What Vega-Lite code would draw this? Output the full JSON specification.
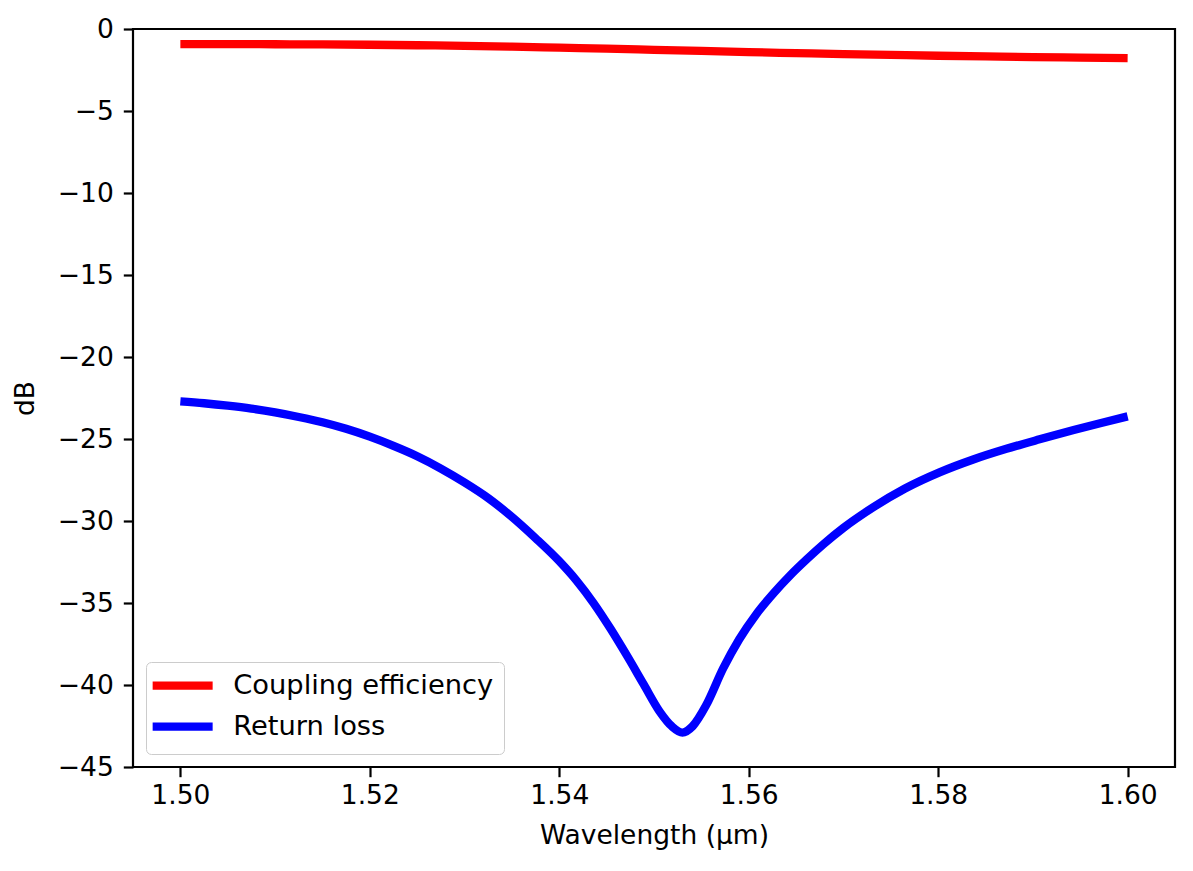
{
  "$schema": "https://vega.github.io/schema/vega-lite/v6.json",
  "autosize": {"type": "none"},
  "padding": {"left": 133, "top": 29, "right": 18, "bottom": 104},
  "width": 1042,
  "height": 738,
  "background": "white",
  "config": {
    "font": "DejaVu Sans",
    "view": {"stroke": "black", "strokeWidth": 2.2},
    "axis": {
      "domain": false,
      "grid": false,
      "ticks": true,
      "tickColor": "black",
      "tickWidth": 2.2,
      "tickSize": 9.7,
      "labelColor": "black",
      "labelFont": "DejaVu Sans",
      "labelFontSize": 26.5,
      "titleFont": "DejaVu Sans",
      "titleFontSize": 26.5,
      "titleFontWeight": "normal",
      "titleColor": "black"
    },
    "legend": {
      "orient": "bottom-left",
      "offset": 13,
      "padding": 10,
      "fillColor": "rgba(255,255,255,0.8)",
      "strokeColor": "#cccccc",
      "cornerRadius": 5,
      "symbolType": "M-1,0L11,0",
      "symbolSize": 100,
      "symbolOffset": -12,
      "symbolStrokeWidth": 8.3,
      "labelFont": "DejaVu Sans",
      "labelFontSize": 27.3,
      "labelColor": "black",
      "labelOffset": 62,
      "labelLimit": 600,
      "rowPadding": 7,
      "title": null
    }
  },
  "data": {
    "values": [
      {"wl": 1.500, "dB": -0.92, "series": "Coupling efficiency"},
      {"wl": 1.505, "dB": -0.92, "series": "Coupling efficiency"},
      {"wl": 1.510, "dB": -0.93, "series": "Coupling efficiency"},
      {"wl": 1.515, "dB": -0.94, "series": "Coupling efficiency"},
      {"wl": 1.520, "dB": -0.96, "series": "Coupling efficiency"},
      {"wl": 1.525, "dB": -0.99, "series": "Coupling efficiency"},
      {"wl": 1.530, "dB": -1.03, "series": "Coupling efficiency"},
      {"wl": 1.535, "dB": -1.08, "series": "Coupling efficiency"},
      {"wl": 1.540, "dB": -1.14, "series": "Coupling efficiency"},
      {"wl": 1.545, "dB": -1.20, "series": "Coupling efficiency"},
      {"wl": 1.550, "dB": -1.27, "series": "Coupling efficiency"},
      {"wl": 1.555, "dB": -1.34, "series": "Coupling efficiency"},
      {"wl": 1.560, "dB": -1.41, "series": "Coupling efficiency"},
      {"wl": 1.565, "dB": -1.47, "series": "Coupling efficiency"},
      {"wl": 1.570, "dB": -1.53, "series": "Coupling efficiency"},
      {"wl": 1.575, "dB": -1.58, "series": "Coupling efficiency"},
      {"wl": 1.580, "dB": -1.63, "series": "Coupling efficiency"},
      {"wl": 1.585, "dB": -1.67, "series": "Coupling efficiency"},
      {"wl": 1.590, "dB": -1.71, "series": "Coupling efficiency"},
      {"wl": 1.595, "dB": -1.74, "series": "Coupling efficiency"},
      {"wl": 1.600, "dB": -1.77, "series": "Coupling efficiency"},
      {"wl": 1.5000, "dB": -22.70, "series": "Return loss"},
      {"wl": 1.5025, "dB": -22.82, "series": "Return loss"},
      {"wl": 1.5050, "dB": -22.97, "series": "Return loss"},
      {"wl": 1.5075, "dB": -23.15, "series": "Return loss"},
      {"wl": 1.5100, "dB": -23.38, "series": "Return loss"},
      {"wl": 1.5125, "dB": -23.66, "series": "Return loss"},
      {"wl": 1.5150, "dB": -23.98, "series": "Return loss"},
      {"wl": 1.5175, "dB": -24.38, "series": "Return loss"},
      {"wl": 1.5200, "dB": -24.86, "series": "Return loss"},
      {"wl": 1.5225, "dB": -25.42, "series": "Return loss"},
      {"wl": 1.5250, "dB": -26.05, "series": "Return loss"},
      {"wl": 1.5275, "dB": -26.80, "series": "Return loss"},
      {"wl": 1.5300, "dB": -27.65, "series": "Return loss"},
      {"wl": 1.5325, "dB": -28.60, "series": "Return loss"},
      {"wl": 1.5350, "dB": -29.75, "series": "Return loss"},
      {"wl": 1.5375, "dB": -31.05, "series": "Return loss"},
      {"wl": 1.5400, "dB": -32.45, "series": "Return loss"},
      {"wl": 1.5418, "dB": -33.62, "series": "Return loss"},
      {"wl": 1.5436, "dB": -34.99, "series": "Return loss"},
      {"wl": 1.5454, "dB": -36.56, "series": "Return loss"},
      {"wl": 1.5471, "dB": -38.17, "series": "Return loss"},
      {"wl": 1.5489, "dB": -39.95, "series": "Return loss"},
      {"wl": 1.5506, "dB": -41.62, "series": "Return loss"},
      {"wl": 1.5519, "dB": -42.53, "series": "Return loss"},
      {"wl": 1.5530, "dB": -42.90, "series": "Return loss"},
      {"wl": 1.5541, "dB": -42.50, "series": "Return loss"},
      {"wl": 1.5555, "dB": -41.24, "series": "Return loss"},
      {"wl": 1.5573, "dB": -38.99, "series": "Return loss"},
      {"wl": 1.5590, "dB": -37.21, "series": "Return loss"},
      {"wl": 1.5608, "dB": -35.68, "series": "Return loss"},
      {"wl": 1.5626, "dB": -34.42, "series": "Return loss"},
      {"wl": 1.5644, "dB": -33.30, "series": "Return loss"},
      {"wl": 1.5661, "dB": -32.35, "series": "Return loss"},
      {"wl": 1.5679, "dB": -31.41, "series": "Return loss"},
      {"wl": 1.5700, "dB": -30.42, "series": "Return loss"},
      {"wl": 1.5731, "dB": -29.18, "series": "Return loss"},
      {"wl": 1.5765, "dB": -28.02, "series": "Return loss"},
      {"wl": 1.5802, "dB": -27.02, "series": "Return loss"},
      {"wl": 1.5837, "dB": -26.25, "series": "Return loss"},
      {"wl": 1.5872, "dB": -25.60, "series": "Return loss"},
      {"wl": 1.5907, "dB": -25.02, "series": "Return loss"},
      {"wl": 1.5943, "dB": -24.45, "series": "Return loss"},
      {"wl": 1.5972, "dB": -24.02, "series": "Return loss"},
      {"wl": 1.6000, "dB": -23.62, "series": "Return loss"}
    ]
  },
  "mark": {"type": "line", "strokeWidth": 8.3, "strokeCap": "butt", "strokeJoin": "round", "interpolate": "monotone", "clip": true},
  "encoding": {
    "x": {
      "field": "wl",
      "type": "quantitative",
      "title": "Wavelength (μm)",
      "scale": {"domain": [1.495, 1.605], "nice": false, "zero": false},
      "axis": {
        "values": [1.5, 1.52, 1.54, 1.56, 1.58, 1.6],
        "format": ".2f",
        "labelPadding": 6,
        "titlePadding": 13
      }
    },
    "y": {
      "field": "dB",
      "type": "quantitative",
      "title": "dB",
      "scale": {"domain": [-45, 0], "nice": false, "zero": false},
      "axis": {
        "values": [0, -5, -10, -15, -20, -25, -30, -35, -40, -45],
        "labelExpr": "replace(datum.label, '-', '−')",
        "labelPadding": 10,
        "titlePadding": 18
      }
    },
    "color": {
      "field": "series",
      "type": "nominal",
      "scale": {"domain": ["Coupling efficiency", "Return loss"], "range": ["#ff0000", "#0000ff"]},
      "legend": {"title": null}
    },
    "detail": {"field": "series"}
  }
}
